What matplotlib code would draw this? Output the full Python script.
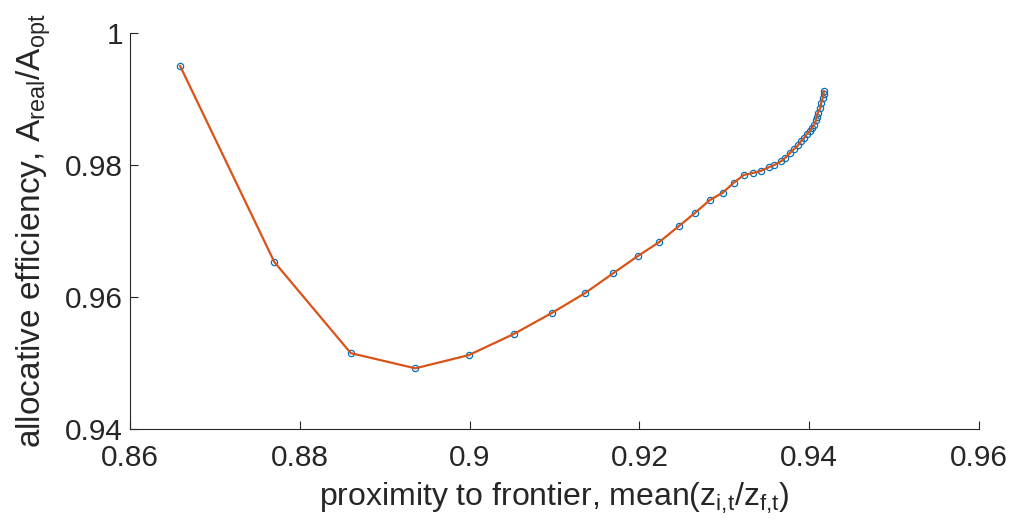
import numpy as np
import matplotlib
matplotlib.use("Agg")
import matplotlib.pyplot as plt

# data
prox = [0.8659, 0.8770, 0.8860, 0.8936, 0.8999, 0.9052, 0.9097, 0.9136, 0.9169,
        0.9198, 0.9223, 0.9247, 0.9265, 0.9283, 0.9298, 0.9311, 0.9323, 0.9334,
        0.9343, 0.9353, 0.9359, 0.9367, 0.9371, 0.9377, 0.9382, 0.9387, 0.9390,
        0.9394, 0.9397, 0.9401, 0.9403, 0.9406, 0.9408, 0.9409, 0.9410, 0.9413,
        0.9414, 0.9416, 0.9417, 0.9417]
eff = [0.9950, 0.9653, 0.9515, 0.9492, 0.9512, 0.9544, 0.9576, 0.9606, 0.9636,
       0.9662, 0.9683, 0.9708, 0.9727, 0.9747, 0.9758, 0.9773, 0.9785, 0.9788,
       0.9791, 0.9797, 0.9800, 0.9806, 0.9810, 0.9818, 0.9824, 0.9830, 0.9836,
       0.9841, 0.9847, 0.9852, 0.9856, 0.9861, 0.9868, 0.9873, 0.9879, 0.9886,
       0.9894, 0.9902, 0.9908, 0.9912]
xticks = [0.86, 0.88, 0.90, 0.92, 0.94, 0.96]
xticklabels = ["0.86", "0.88", "0.9", "0.92", "0.94", "0.96"]
yticks = [0.94, 0.96, 0.98, 1.0]
yticklabels = ["0.94", "0.96", "0.98", "1"]

plt.rcParams['font.family'] = ['Liberation Sans', 'DejaVu Sans']
plt.rcParams['mathtext.default'] = 'regular'

fig = plt.figure(figsize=(10.16, 5.31), dpi=100)
ax = fig.add_axes([0.128, 0.192, 0.8356, 0.7458])

ax.plot(prox, eff, 'o', mfc='none', mec='#0072BD', ms=4.5, mew=0.9)
ax.plot(prox, eff, '-', color='#D95319', lw=1.6)

ax.set_xlim(0.86, 0.96)
ax.set_ylim(0.94, 1.0)
ax.set_xticks(xticks)
ax.set_xticklabels(xticklabels)
ax.set_yticks(yticks)
ax.set_yticklabels(yticklabels)

for s in ['top', 'right']:
    ax.spines[s].set_visible(False)
for s in ['left', 'bottom']:
    ax.spines[s].set_color('#262626')
    ax.spines[s].set_linewidth(0.8)
ax.tick_params(direction='in', length=6, width=0.8, colors='#262626',
               labelsize=21.5)
ax.tick_params(axis='x', pad=11)
ax.tick_params(axis='y', pad=5)

ax.set_xlabel('proximity to frontier, mean($z_{i{,}t}/z_{f{,}t}$)', fontsize=23,
              color='#262626', labelpad=6)
ax.set_ylabel('allocative efficiency, $A_{real}/A_{opt}$', fontsize=24,
              color='#262626', labelpad=9)

fig.savefig('out.png', dpi=100)
